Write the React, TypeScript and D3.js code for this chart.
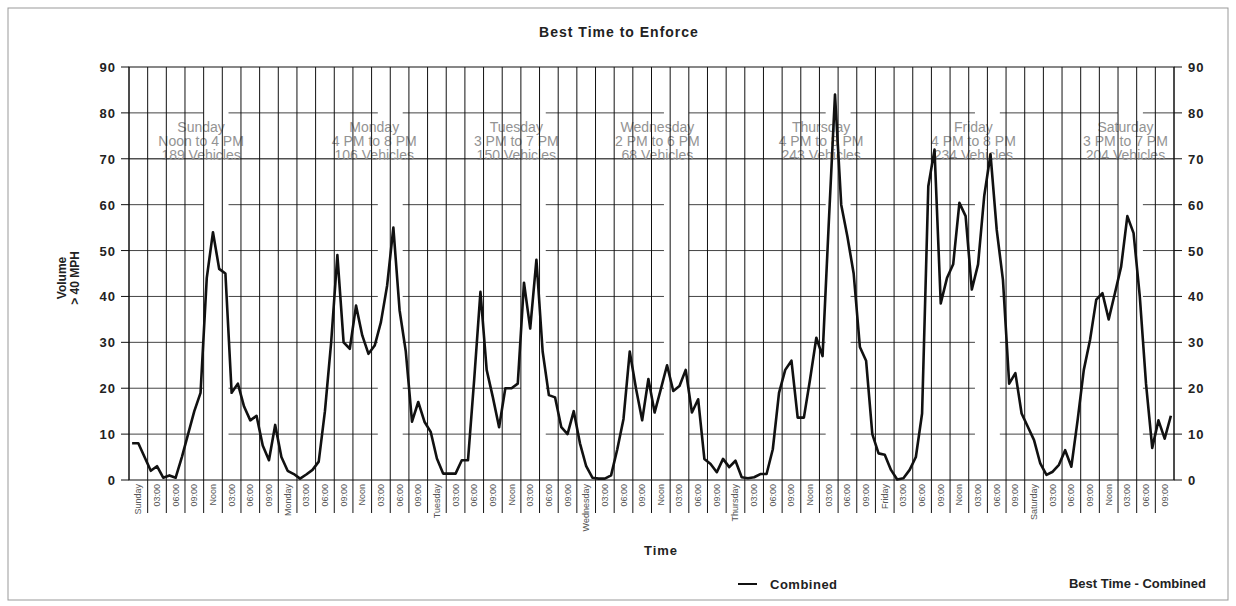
import React from 'react';
import * as d3 from 'd3';

// hourly volume > 40 mph, Sunday 00:00 .. Saturday 23:00
const combined = [
  // Sunday
  8, 8, 5, 2, 3, 0.5, 1, 0.5, 5, 10, 15, 19, 44, 54, 46, 45, 19, 21, 16, 13, 14, 7.5, 4.3, 12,
  // Monday
  5, 2, 1.3, 0.3, 1.2, 2.2, 4, 15, 30, 49, 30, 28.6, 38, 31.5, 27.5, 29.3, 34.4, 42.4, 55, 37, 28, 12.7, 17, 12.7,
  // Tuesday
  10.5, 4.7, 1.4, 1.4, 1.4, 4.3, 4.3, 22, 41, 24, 18, 11.5, 20, 20, 21, 43, 33, 48, 28, 18.5, 18, 11.5, 10, 15,
  // Wednesday
  8, 3, 0.5, 0.3, 0.3, 1, 6.7, 13.3, 28, 20, 13, 22, 14.7, 19.8, 25, 19.4, 20.5, 24, 14.7, 17.6, 4.6, 3.5, 1.7, 4.6,
  // Thursday
  2.8, 4.2, 0.6, 0.4, 0.6, 1.3, 1.3, 6.7, 19, 24, 26, 13.6, 13.6, 22, 31, 27, 56, 84, 60, 53, 45, 29, 26, 10,
  // Friday
  5.8, 5.5, 2.2, 0.1, 0.4, 2.2, 5, 14.5, 64, 72, 38.5, 44, 47, 60.4, 57.5, 41.5, 47, 62, 71, 54.5, 43.6, 21, 23.3, 14.5,
  // Saturday
  11.6, 8.7, 3.6, 1.1, 1.8, 3.3, 6.5, 2.9, 13, 24, 30.5, 39.3, 40.7, 35, 40.7, 46.5, 57.5, 53.8, 40, 21, 7, 13, 9, 14,
];

const days = ['Sunday', 'Monday', 'Tuesday', 'Wednesday', 'Thursday', 'Friday', 'Saturday'];
const hourLabels = ['03:00', '06:00', '09:00', 'Noon', '03:00', '06:00', '09:00'];
const yTicks = [0, 10, 20, 30, 40, 50, 60, 70, 80, 90];

// best enforcement window per day
const bestWindows = ['Noon to 4 PM', '4 PM to 8 PM', '3 PM to 7 PM', '2 PM to 6 PM', '4 PM to 8 PM', '4 PM to 8 PM', '3 PM to 7 PM'];
const bestVehicles = [189, 106, 150, 68, 243, 234, 204];
const bestStart = [12, 16, 15, 14, 16, 16, 15];
const bestEnd = [16, 20, 19, 18, 20, 20, 19];

const W = 1236;
const H = 606;
const left = 129;
const right = 1174;
const top = 67;
const bottom = 480;
// text boxes sit a little left of their band
const noteShift = [-15, -16, -17, -19, -17, -14, -5];

const App = () => {
  const hours = d3.range(combined.length);
  const x = d3.scaleBand<number>().domain(hours).range([left, right]);
  const bw = x.bandwidth();
  const cx = (i: number) => (x(i) as number) + bw / 2;
  const y = d3.scaleLinear().domain([0, 90]).range([bottom, top]);

  const line = d3.line<number>().x((d, i) => cx(i)).y(d => y(d));

  // category labels every 3 hours
  const labels = d3.range(combined.length / 3).map(k => {
    const day = Math.floor(k / 8);
    const slot = k % 8;
    return { k, text: slot === 0 ? days[day] : hourLabels[slot - 1] };
  });
  const gridX = d3.range(combined.length / 3 + 1).map(k => left + k * 3 * bw);

  const font = '"Liberation Sans", Arial, sans-serif';
  const bandEdges = days.map((d, i) => {
    const x0 = x(i * 24 + bestStart[i]) as number;
    const x1 = (x(i * 24 + bestEnd[i] - 1) as number) + bw;
    return [x0, x1];
  });

  return (
    <div style={{ position: 'fixed', left: 0, top: 0 }}>
      <svg width={W} height={H} style={{ display: 'block', background: '#fff' }} fontFamily={font}>
        <rect x={8} y={8} width={1220} height={592} fill="none" stroke="#999" strokeWidth={1} />
        <text x={619} y={37} textAnchor="middle" fontSize={14} letterSpacing={1} fontWeight="bold" fill="#222">
          Best Time to Enforce
        </text>

        {/* horizontal grid */}
        {yTicks.filter(t => t > 0 && t < 90).map(t => (
          <line key={'h' + t} x1={left} x2={right} y1={y(t)} y2={y(t)} stroke="#444" strokeWidth={1} />
        ))}

        {/* best time bands */}
        {bandEdges.map(([x0, x1], i) => (
          <rect key={'b' + i} x={x0} y={y(80) - 2} width={x1 - x0} height={bottom - y(80) + 1} fill="#fff" />
        ))}
        <line x1={left} x2={right} y1={y(70)} y2={y(70)} stroke="#444" strokeWidth={1} />

        {/* annotation text */}
        {days.map((d, i) => {
          const mid = (bandEdges[i][0] + bandEdges[i][1]) / 2 + noteShift[i];
          return (
            <g key={'a' + d} fill="#939393" fontSize={14} textAnchor="middle">
              <text x={mid} y={132}>{d}</text>
              <text x={mid} y={146}>{bestWindows[i]}</text>
              <text x={mid} y={160}>{bestVehicles[i]} Vehicles</text>
            </g>
          );
        })}

        {/* vertical grid, extended through label cells */}
        {gridX.map((gx, k) => (
          <line key={'v' + k} x1={gx} x2={gx} y1={top} y2={k === 0 || k === gridX.length - 1 ? bottom : 513} stroke="#111" strokeWidth={1} />
        ))}

        <rect x={left} y={top} width={right - left} height={bottom - top} fill="none" stroke="#111" strokeWidth={1} />

        {/* y axes */}
        {yTicks.map(t => (
          <g key={'t' + t}>
            <line x1={left - 8} x2={left} y1={y(t)} y2={y(t)} stroke="#111" />
            <line x1={right} x2={right + 8} y1={y(t)} y2={y(t)} stroke="#111" />
            <text x={left - 13} y={y(t) + 5} textAnchor="end" fontSize={13} letterSpacing={1} fontWeight="bold" fill="#222">{t}</text>
            <text x={right + 14} y={y(t) + 5} textAnchor="start" fontSize={13} letterSpacing={1} fontWeight="bold" fill="#222">{t}</text>
          </g>
        ))}

        {/* category labels */}
        {labels.map(l => {
          const lx = left + (l.k * 3 + 1.5) * bw;
          return (
            <text key={'c' + l.k} transform={`translate(${lx + 3},${bottom + 4}) rotate(-90)`} textAnchor="end" fontSize={9} fill="#555">
              {l.text}
            </text>
          );
        })}

        <path d={line(combined) as string} fill="none" stroke="#111" strokeWidth={2.6} strokeLinejoin="round" />

        <text transform="translate(66,278) rotate(-90)" textAnchor="middle" fontSize={12} fontWeight="bold" fill="#222">Volume</text>
        <text transform="translate(79,278) rotate(-90)" textAnchor="middle" fontSize={12} fontWeight="bold" fill="#222">&gt; 40 MPH</text>

        <text x={661} y={555} textAnchor="middle" fontSize={13} letterSpacing={1} fontWeight="bold" fill="#222">Time</text>

        <line x1={738} x2={757} y1={584} y2={584} stroke="#111" strokeWidth={2} />
        <text x={770} y={589} fontSize={13} letterSpacing={0.5} fontWeight="bold" fill="#222">Combined</text>
        <text x={1206} y={588} textAnchor="end" fontSize={13} fontWeight="bold" fill="#222">Best Time - Combined</text>
      </svg>
    </div>
  );
};

export default App;
